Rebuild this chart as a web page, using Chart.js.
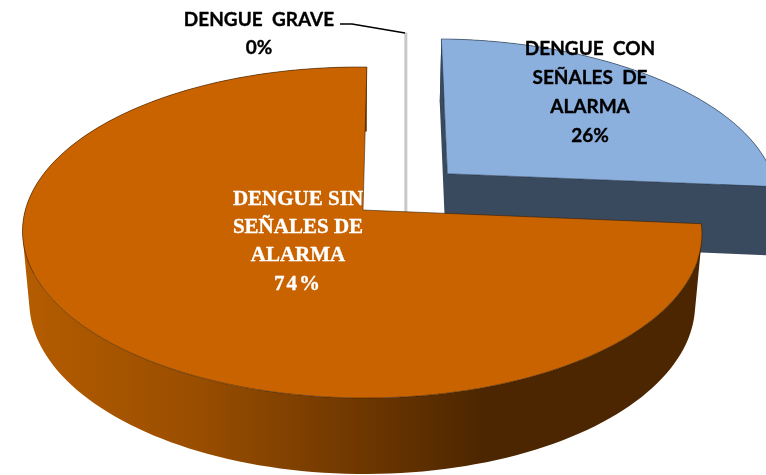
<!DOCTYPE html>
<html><head><meta charset="utf-8">
<style>html,body{margin:0;padding:0;background:#fff}#box{width:766px;height:475px}canvas{display:block}</style>
<script src="https://cdn.jsdelivr.net/npm/chart.js@4"></script>
</head><body><div id="box"><canvas id="c" width="766" height="475"></canvas></div>
<script>
const categories = ["DENGUE CON SEÑALES DE ALARMA", "DENGUE SIN SEÑALES DE ALARMA", "DENGUE GRAVE"];
const values = [26, 74, 0];
const labelLines = [["DENGUE  CON", "SEÑALES  DE", "ALARMA"], ["DENGUE SIN", "SEÑALES DE", "ALARMA"], ["DENGUE  GRAVE"]];

const topColors = ["#8CB0DE", "#C96300", "#C8C8C8"];
const wallColors = ["#3A4A5E", "#4C2600", "#C8C8C8"];
const explode = [[0.2617, -0.229], [0, 0], [0.14, -0.283]];

// Perspective view of the flat pie plane
const K = -0.136, J = 0.004, AX = 363, AY = 210, CX = 338, DX = -45, BY = 133.9;
function proj(u, v) { const w = 1 + K * v + J * u; return { x: (AX + CX * u + DX * v) / w, y: (AY + BY * v) / w }; }
function drop(p) { return { x: 362 + (p.x - 362) * 0.98, y: p.y + 68 + (p.y - 170) * 0.035 }; }
function rim(a, b, off) {
  const n = 160, pts = [];
  for (let i = 0; i <= n; i++) {
    const t = a + (b - a) * i / n;
    pts.push(proj(off[0] + Math.cos(t), off[1] + Math.sin(t)));
  }
  return pts;
}
function poly(ctx, pts) {
  ctx.beginPath();
  pts.forEach((p, i) => i ? ctx.lineTo(p.x, p.y) : ctx.moveTo(p.x, p.y));
  ctx.closePath();
}
// wall swept downward from a rim: same-wound quads in one path, so no seams and a tangent silhouette
function wall(ctx, pts, paint) {
  ctx.fillStyle = paint;
  ctx.beginPath();
  for (let i = 0; i + 1 < pts.length; i++) {
    let q = [pts[i], pts[i + 1], drop(pts[i + 1]), drop(pts[i])];
    let area = 0;
    q.forEach((p, k) => { const r = q[(k + 1) % 4]; area += p.x * r.y - r.x * p.y; });
    if (area < 0) q = q.reverse();
    q.forEach((p, k) => k ? ctx.lineTo(p.x, p.y) : ctx.moveTo(p.x, p.y));
    ctx.closePath();
  }
  ctx.fill('nonzero');
}

const pie3d = {
  id: 'pie3d',
  beforeDatasetDraw(chart, args) {
    const ctx = chart.ctx, arcs = chart.getDatasetMeta(args.index).data;
    const geo = arcs.map((el, i) => {
      const off = explode[i], apex = proj(off[0], off[1]);
      return { apex, arc: rim(el.startAngle, el.endAngle, off) };
    });
    ctx.save();
    ctx.lineJoin = 'round';

    // zero slice: edge-on sheet
    const g = geo[2], gTop = proj(explode[2][0] + Math.cos(arcs[2].startAngle), explode[2][1] + Math.sin(arcs[2].startAngle));
    ctx.strokeStyle = topColors[2]; ctx.lineWidth = 3;
    ctx.beginPath(); ctx.moveTo(gTop.x, gTop.y); ctx.lineTo(gTop.x, drop(g.apex).y); ctx.stroke();

    // detached slice
    const b = geo[0];
    wall(ctx, b.arc, wallColors[0]);
    wall(ctx, [b.arc[0], b.apex, b.arc[b.arc.length - 1]], wallColors[0]);
    ctx.fillStyle = topColors[0];
    ctx.strokeStyle = 'rgba(30,45,65,0.55)'; ctx.lineWidth = 1;
    poly(ctx, [b.apex].concat(b.arc)); ctx.fill(); ctx.stroke();

    // main slice
    const o = geo[1];
    const grad = ctx.createLinearGradient(25, 0, 700, 0);
    grad.addColorStop(0, '#B45C00');
    grad.addColorStop(0.25, '#9A4E00');
    grad.addColorStop(0.5, '#6E3700');
    grad.addColorStop(0.68, '#4C2600');
    grad.addColorStop(1, '#4C2600');
    wall(ctx, o.arc, grad);
    ctx.fillStyle = topColors[1];
    ctx.strokeStyle = 'rgba(50,25,0,0.55)'; ctx.lineWidth = 1;
    poly(ctx, [o.apex].concat(o.arc)); ctx.fill(); ctx.stroke();
    ctx.restore();
    return false;
  },
  afterDatasetsDraw(chart) {
    const ctx = chart.ctx;
    const total = values.reduce((s, v) => s + v, 0);
    const pct = values.map(v => Math.round(v / total * 100) + '%');
    ctx.save();
    ctx.textAlign = 'center'; ctx.textBaseline = 'middle'; ctx.lineWidth = 0.35; ctx.lineJoin = 'round';
    const block = (i, x, ys, font, color, pctSpacing) => {
      ctx.font = font; ctx.fillStyle = color; ctx.strokeStyle = color;
      labelLines[i].concat(pct[i]).forEach((t, k) => {
        ctx.letterSpacing = k === labelLines[i].length ? pctSpacing : '0px';
        ctx.fillText(t, x, ys[k]); ctx.strokeText(t, x, ys[k]);
      });
    };
    const sans = 'bold 19px Lato', serif = 'bold 21px "Liberation Serif"';
    block(0, 590, [49, 78, 107, 136], sans, '#000', '0px');
    block(1, 298, [200, 228, 256, 285], serif, '#fff', '2px');
    block(2, 259, [20, 48], sans, '#000', '0px');
    ctx.strokeStyle = '#000'; ctx.lineWidth = 1.5;
    ctx.beginPath(); ctx.moveTo(340, 24); ctx.lineTo(352, 24); ctx.lineTo(405, 33); ctx.stroke();
    ctx.restore();
  }
};

new Chart(document.getElementById('c'), {
  type: 'pie',
  data: { labels: categories, datasets: [{ data: values, backgroundColor: topColors }] },
  options: {
    responsive: false, animation: false, rotation: 1.5,
    plugins: { legend: { display: false }, tooltip: { enabled: false } }
  },
  plugins: [pie3d]
});
</script></body></html>
